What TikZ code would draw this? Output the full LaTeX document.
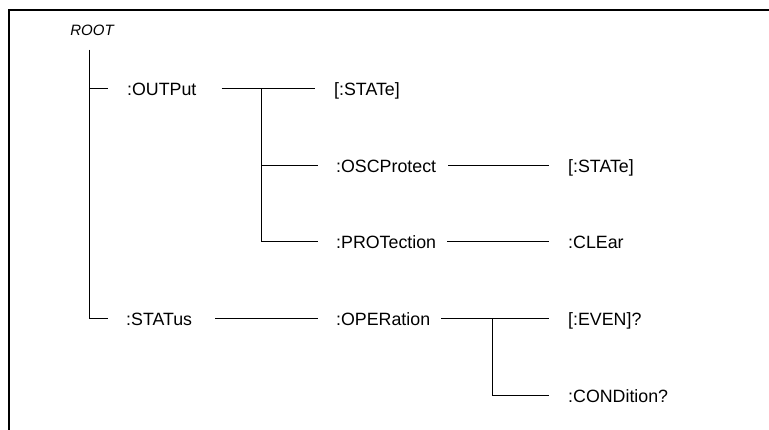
\documentclass[tikz,border=0pt]{standalone}
\usepackage{fontspec}
\setmainfont{Liberation Sans}
\begin{document}
\begin{tikzpicture}[x=1pt,y=-1pt,
        cmd/.style={anchor=west, inner xsep=0pt, inner ysep=0pt,
            text height=12.7pt, text depth=0pt,
            font=\fontsize{17.8}{20}\selectfont},
        ramo/.style={line width=1pt}]
    \useasboundingbox (0,0) rectangle (769,430);
    % cornice
    \draw[line width=2pt] (9,430) -- (9,10) -- (769,10);
    % radice
    \node (root) at (92,30) {\fontsize{15}{18}\selectfont\itshape ROOT};
    \coordinate (tronco) at (89,50);
    % primo livello
    \node[cmd] (output) at (127,89) {:OUTPut};
    \node[cmd] (status) at (126,319) {:STATus};
    % secondo livello
    \node[cmd] (state1) at (334,89) {[:STATe]};
    \node[cmd] (osc) at (336,166) {:OSCProtect};
    \node[cmd] (prot) at (336,242) {:PROTection};
    \node[cmd] (oper) at (336,319) {:OPERation};
    % terzo livello
    \node[cmd] (state2) at (568,166) {[:STATe]};
    \node[cmd] (clear) at (568,242) {:CLEar};
    \node[cmd] (even) at (568,319) {[:EVEN]?};
    \node[cmd] (cond) at (568,396) {:CONDition?};
    % rami della radice
    \draw[ramo, shorten >=19pt] (tronco) |- (output.west);
    \draw[ramo, shorten >=18pt] (tronco) |- (status.west);
    % rami di :OUTPut
    \coordinate (fork1) at (261,89);
    \draw[ramo, shorten <=25pt, shorten >=19pt] (output.east) -- (state1.west);
    \draw[ramo, shorten >=18pt] (fork1) |- (osc.west);
    \draw[ramo, shorten >=18pt] (fork1) |- (prot.west);
    \draw[ramo, shorten <=12pt, shorten >=19pt] (osc.east) -- (state2.west);
    \draw[ramo, shorten <=11pt, shorten >=19pt] (prot.east) -- (clear.west);
    % rami di :STATus
    \draw[ramo, shorten <=23pt, shorten >=18pt] (status.east) -- (oper.west);
    \coordinate (fork2) at (492,319);
    \draw[ramo, shorten <=11pt, shorten >=19pt] (oper.east) -- (even.west);
    \draw[ramo, shorten >=19pt] (fork2) |- (cond.west);
\end{tikzpicture}
\end{document}
